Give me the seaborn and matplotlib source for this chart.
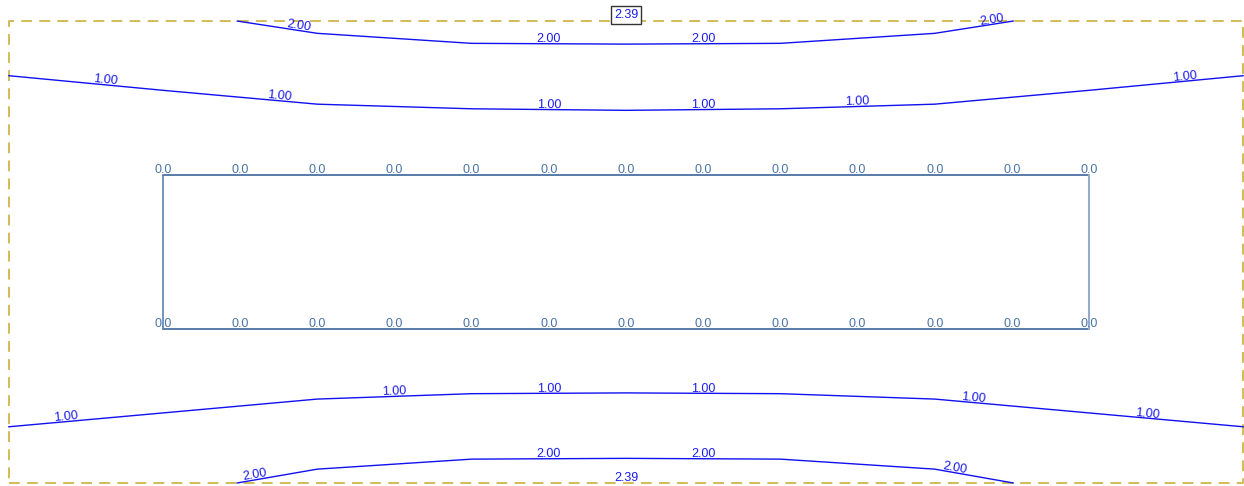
import matplotlib

matplotlib.use("Agg")

import matplotlib.pyplot as plt  # noqa: E402
import numpy as np  # noqa: E402
import seaborn as sns  # noqa: E402

# --- данные (координаты в условных единицах, шаг узлов = 1) ---
node_x = np.arange(13)                       # узлы контура 0..12
node_labels = ["0.0"] * 13
rect_bottom, rect_top = 0.0, 2.0
frame_x = [-2, 14]
frame_y = [-2, 4]

# изолинии: вершины ломаных
top2_x = [0.96, 2, 4, 6, 8, 10, 11.02]
top2_y = [4.0, 3.84, 3.71, 3.70, 3.71, 3.84, 4.0]
top1_x = [-2, 0, 2, 4, 6, 8, 10, 12, 14]
top1_y = [3.29, 3.10, 2.92, 2.86, 2.84, 2.86, 2.92, 3.10, 3.29]
bot1_x = [-2, 0, 2, 4, 6, 8, 10, 12, 14]
bot1_y = [-1.27, -1.09, -0.91, -0.84, -0.83, -0.84, -0.91, -1.09, -1.27]
bot2_x = [0.96, 2, 4, 6, 8, 10, 11.02]
bot2_y = [-2.0, -1.82, -1.69, -1.68, -1.69, -1.82, -2.0]

contours = [
    (top2_x, top2_y, "2.00", [1.75, 5.0, 7.0, 10.75]),
    (top1_x, top1_y, "1.00", [-0.75, 1.5, 5.0, 7.0, 9.0, 13.25]),
    (bot1_x, bot1_y, "1.00", [-1.25, 3.0, 5.0, 7.0, 10.5, 12.75]),
    (bot2_x, bot2_y, "2.00", [1.2, 5.0, 7.0, 10.25]),
]
max_value = "2.39"

sns.set_theme(style="white")
plt.rcParams["font.family"] = ["Liberation Sans", "DejaVu Sans"]

fig = plt.figure(figsize=(12.44, 4.86), dpi=100)
ax = fig.add_axes([0, 0, 1, 1])
ax.set_xlim(-2.112, 14.008)
ax.set_ylim(-2.039, 4.273)
ax.axis("off")

# рамка области (пунктир)
fx = [frame_x[0], frame_x[1], frame_x[1], frame_x[0], frame_x[0]]
fy = [frame_y[0], frame_y[0], frame_y[1], frame_y[1], frame_y[0]]
ax.plot(fx, fy, color="#d1b54a", lw=1.3, ls=(0, (6, 4)))

# изолинии и подписи
for cx, cy, lab, lab_x in contours:
    sns.lineplot(x=cx, y=cy, ax=ax, color="#1010f0", lw=1.0,
                 estimator=None, sort=False)
    for lx in lab_x:
        ly = np.interp(lx, cx, cy)
        slope = np.gradient(np.interp([lx - 0.2, lx + 0.2], cx, cy))[0] / 0.4
        ang = np.degrees(np.arctan(slope))
        ax.text(lx, ly - 0.02, lab, color="#1a1af0", fontsize=9, rotation=ang,
                rotation_mode="anchor", ha="center", va="bottom")

# контур сечения
ax.plot([node_x[0], node_x[-1]], [rect_top, rect_top], color="#3b6699", lw=1.2)
ax.plot([node_x[0], node_x[-1]], [rect_bottom, rect_bottom], color="#3b6699", lw=1.2)
ax.plot([node_x[0], node_x[0]], [rect_bottom, rect_top], color="#5a82b0", lw=1.2)
ax.plot([node_x[-1], node_x[-1]], [rect_bottom, rect_top], color="#93adcb", lw=1.5)
for x, lab in zip(node_x, node_labels):
    for y in (rect_top, rect_bottom):
        ax.text(x, y - 0.01, lab, color="#4a74a8", fontsize=9,
                ha="center", va="bottom")

# максимальные значения
ax.text(6, 4.08, max_value, color="#1a1af0", fontsize=9, ha="center",
        va="center", bbox=dict(boxstyle="square,pad=0.25", fc="white",
                               ec="#333333", lw=1))
ax.text(6, -1.93, max_value, color="#1a1af0", fontsize=9, ha="center",
        va="center")

fig.savefig("out.png", dpi=100)
plt.close(fig)
